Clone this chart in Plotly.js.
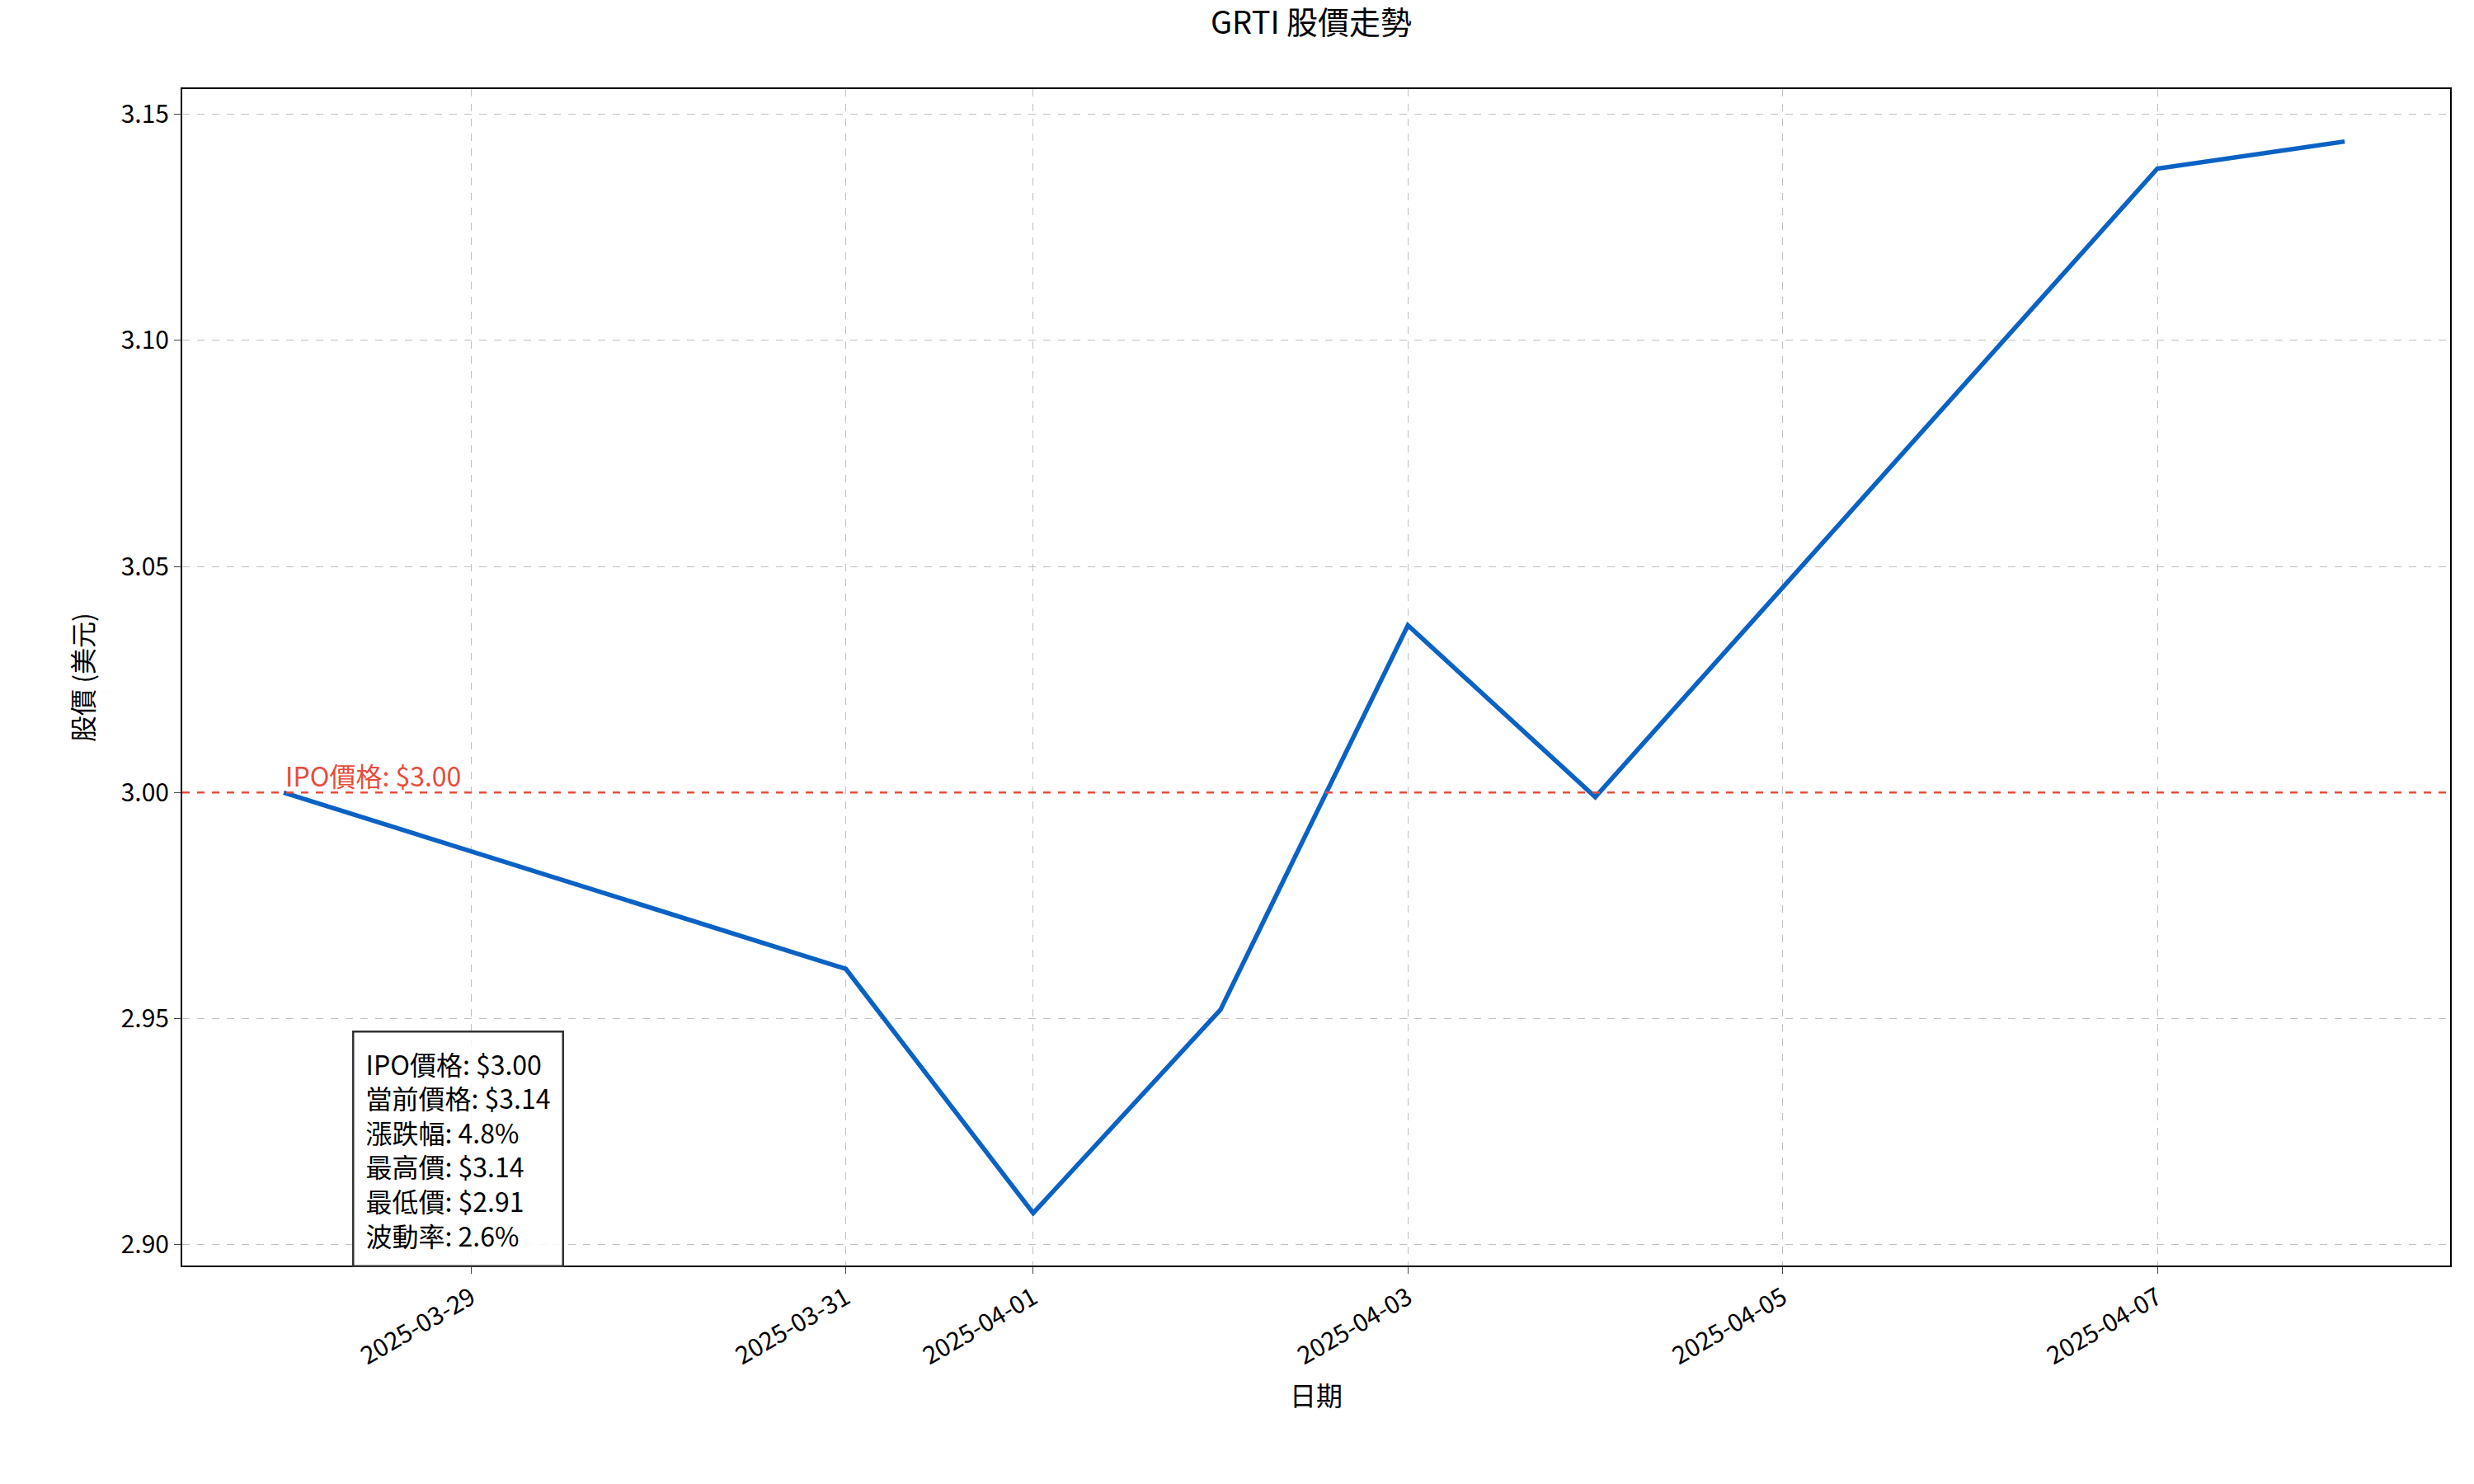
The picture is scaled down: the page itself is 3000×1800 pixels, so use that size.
<!DOCTYPE html>
<html><head><meta charset="utf-8">
<script src="https://cdn.plot.ly/plotly-3.0.1.min.js"></script>
<style>body{margin:0}#c{width:3000px;height:1800px}</style></head>
<body><div id="c"></div>
<script>
const dates = ["2025-03-28","2025-03-31","2025-04-01","2025-04-02","2025-04-03","2025-04-04","2025-04-07","2025-04-08"];
const prices = [3.000, 2.961, 2.907, 2.952, 3.037, 2.999, 3.138, 3.144];
const tickDates = ["2025-03-29","2025-03-31","2025-04-01","2025-04-03","2025-04-05","2025-04-07"];
const ipoPrice = 3.00;
const statsLines = ["IPO價格: $3.00","當前價格: $3.14","漲跌幅: 4.8%","最高價: $3.14","最低價: $2.91","波動率: 2.6%"];
const F = '"Noto Sans CJK TC","Noto Sans",sans-serif';
Plotly.newPlot('c',[{x:dates,y:prices,mode:'lines',line:{color:'#0a62c4',width:5.5},hoverinfo:'skip'}],{
  width:3000,height:1800,paper_bgcolor:'white',plot_bgcolor:'white',showlegend:false,
  margin:{l:221,r:29,t:108,b:265},
  font:{family:F,size:30,color:'#000'},
  title:{text:'GRTI 股價走勢',font:{size:38},x:0.53,xanchor:'center',y:0.992,yanchor:'top'},
  xaxis:{type:'date',range:['2025-03-27 11:00','2025-04-08 13:30'],tickvals:tickDates,ticktext:tickDates,
    tickangle:-30,ticks:'outside',ticklen:8,showgrid:true,gridcolor:'#c0c0c0',griddash:'dash',
    showline:true,mirror:true,linecolor:'#000',linewidth:2,zeroline:false,
    title:{text:'日期',font:{size:32},standoff:20}},
  yaxis:{range:[2.8954,3.1556],tickvals:[2.90,2.95,3.00,3.05,3.10,3.15],tickformat:'.2f',
    ticks:'outside',ticklen:8,showgrid:true,gridcolor:'#c0c0c0',griddash:'dash',
    showline:true,mirror:true,linecolor:'#000',linewidth:2,zeroline:false,
    title:{text:'股價 (美元)',font:{size:32},standoff:24}},
  shapes:[{type:'line',xref:'paper',x0:0,x1:1,y0:ipoPrice,y1:ipoPrice,line:{color:'#e74c3c',width:2.5,dash:'dash'}}],
  annotations:[
    {x:dates[0],y:ipoPrice,text:'IPO價格: $'+ipoPrice.toFixed(2),showarrow:false,xanchor:'left',yanchor:'bottom',font:{color:'#e74c3c',size:32},yshift:-4},
    {xref:'paper',yref:'paper',x:0.075,y:0.2,xanchor:'left',yanchor:'top',align:'left',showarrow:false,
     text:statsLines.join('<br>'),font:{size:32},bordercolor:'#333',borderwidth:2.5,borderpad:14,bgcolor:'rgba(255,255,255,0.85)'}
  ]
},{displayModeBar:false});
</script></body></html>
